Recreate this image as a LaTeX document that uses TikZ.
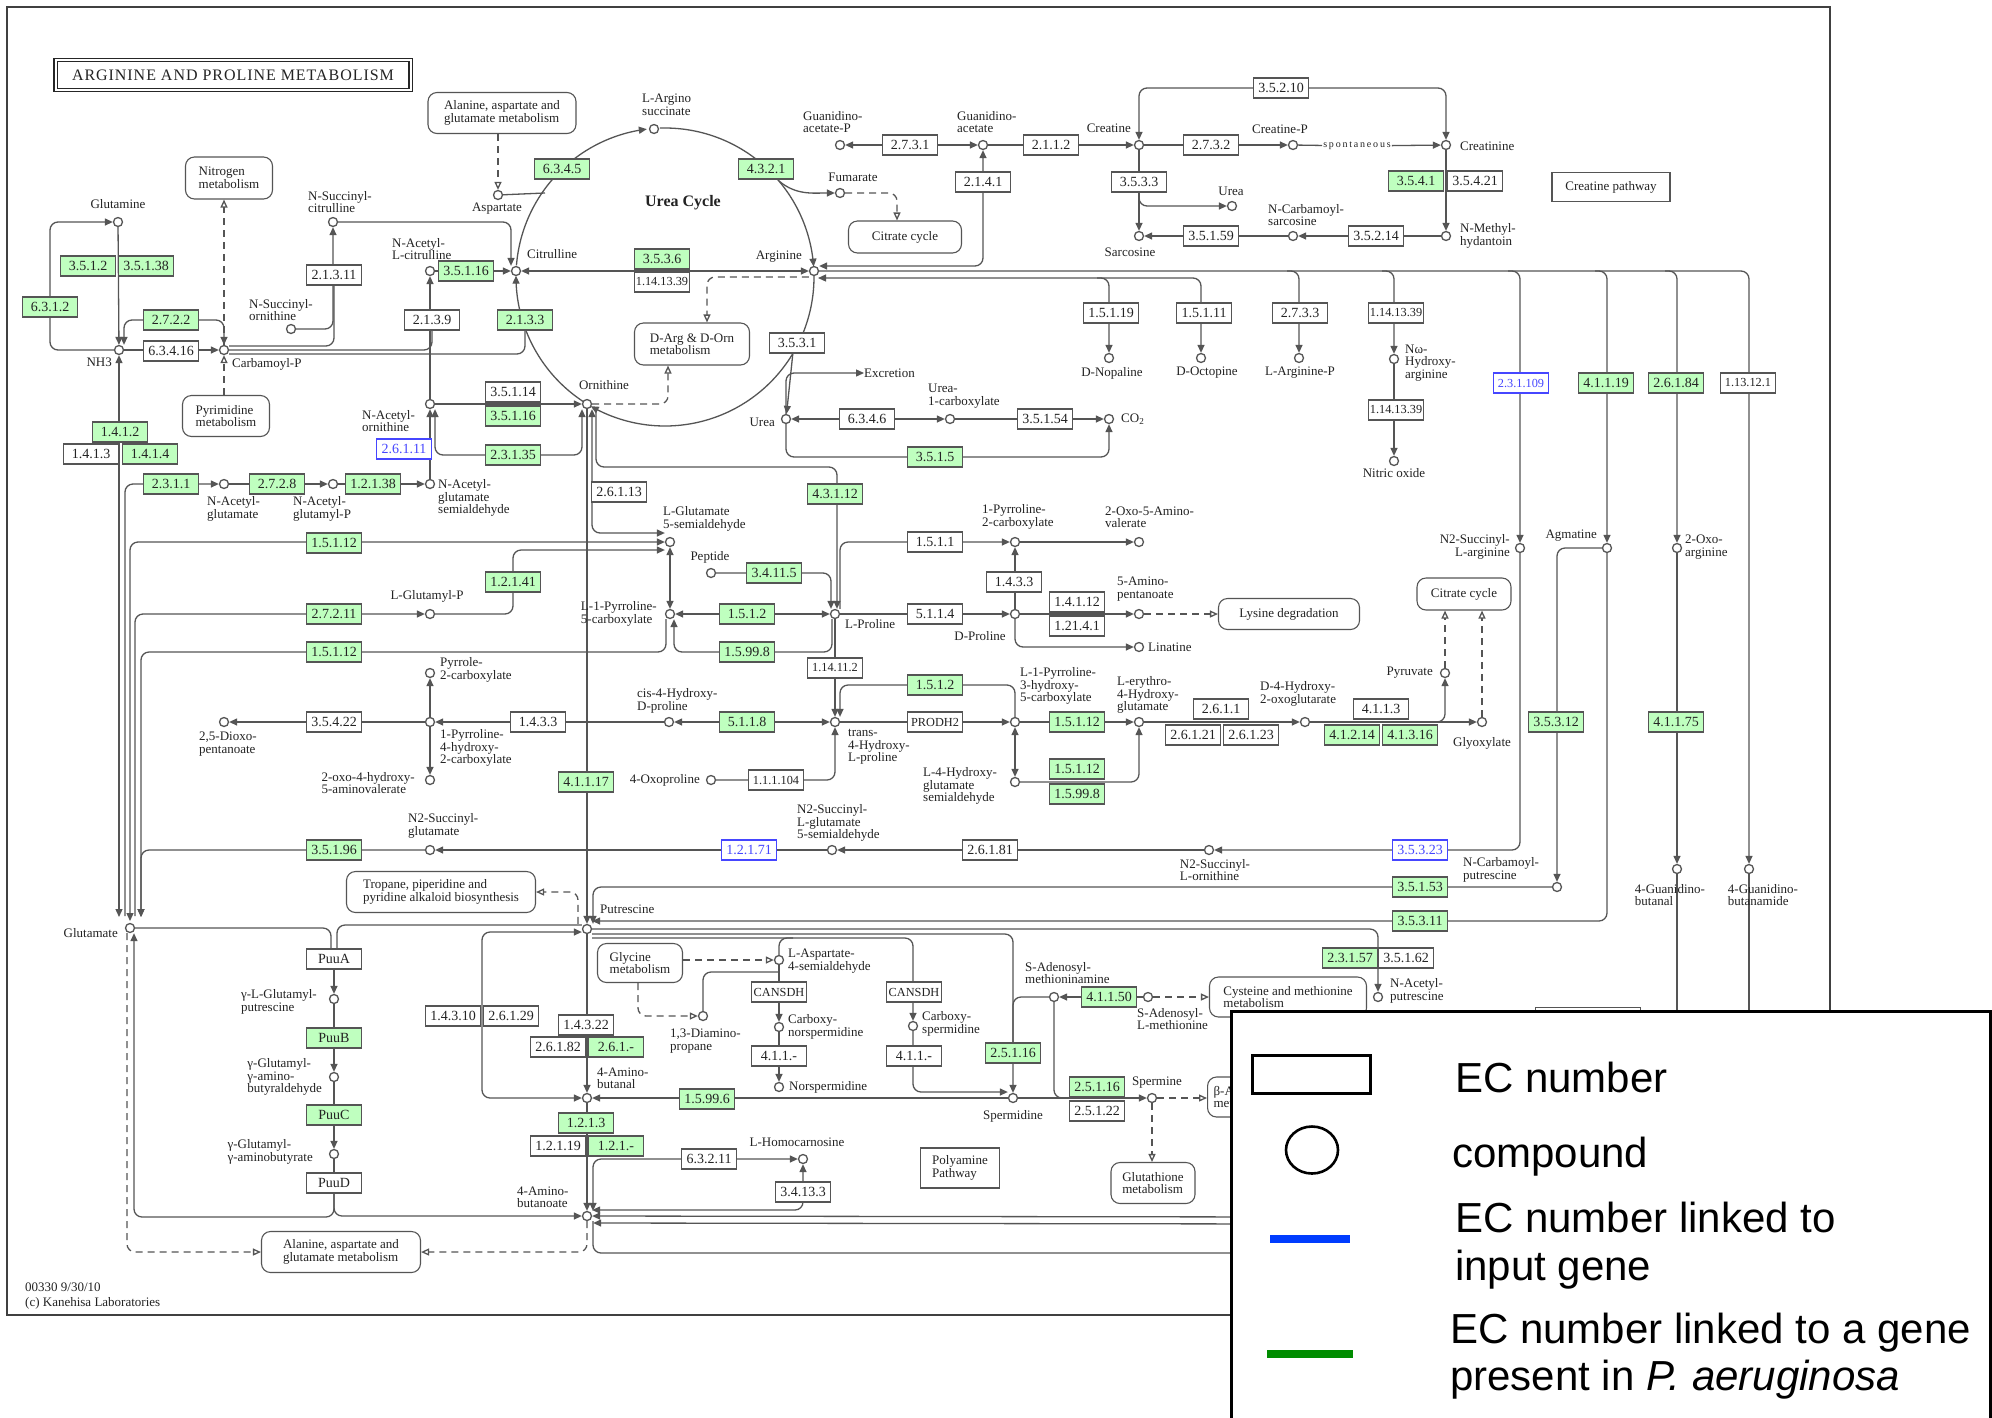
\documentclass[tikz,border=0pt]{standalone}
\usepackage{fontspec}
\setmainfont{Liberation Serif}
\newfontfamily\legfont{Liberation Sans}
\newfontfamily\spfont[LetterSpace=18]{Liberation Serif}
\newfontfamily\ttlfont[LetterSpace=6]{Liberation Serif}
\usetikzlibrary{arrows.meta,calc,shapes.geometric}
\pgfdeclarelayer{bg}
\pgfsetlayers{bg,main}
\definecolor{kgreen}{RGB}{191,255,191}
\definecolor{kblue}{RGB}{70,70,255}
\definecolor{lncol}{RGB}{85,85,85}
\definecolor{boxcol}{RGB}{85,85,85}
\definecolor{txtcol}{RGB}{35,35,35}
\definecolor{legblue}{RGB}{0,60,255}
\definecolor{leggreen}{RGB}{0,140,0}
\newcommand\ecf{\fontsize{14}{14}\selectfont}
\newcommand\ecsm{\fontsize{12.3}{12}\selectfont}
\newcommand\cpf{\fontsize{13}{12.5}\selectfont}
\tikzset{
  ln/.style={draw=lncol, line width=1.3pt, rounded corners=8pt},
  ar/.style={ln, -{Triangle[length=8pt,width=7pt]}},
  arb/.style={ln, {Triangle[length=8pt,width=7pt]}-{Triangle[length=8pt,width=7pt]}},
  dsh/.style={ln, dash pattern=on 7pt off 5pt, -{Triangle[open,length=8pt,width=7pt]}},
  cpd/.style={circle, draw=lncol, line width=1.3pt, fill=white, minimum size=9pt, inner sep=0pt},
  ecw/.style={rectangle, draw=boxcol, line width=1.1pt, fill=white, minimum width=55pt, minimum height=20pt, inner sep=0pt, font=\ecf, text=txtcol},
  ecg/.style={ecw, fill=kgreen},
  ecb/.style={ecw, draw=kblue, text=kblue},
  mapbox/.style={rectangle, rounded corners=9pt, draw=boxcol, line width=1.1pt, fill=white, align=left, font=\cpf, text=txtcol, inner sep=2pt},
  plainbox/.style={rectangle, draw=boxcol, line width=1.1pt, fill=white, align=left, font=\cpf, text=txtcol, inner sep=2pt},
  lbl/.style={font=\cpf, inner sep=0pt, text=txtcol, align=left},
  lt/.style={font=\legfont\fontsize{42}{48}\selectfont, inner sep=0pt, anchor=base west},
}
\newcommand\kcp[2]{\node[cpd] (c-#1) at (#2) {};}
\newcommand\klb[4][anchor=center]{\node[lbl,#1] (l-#2) at (#3) {#4};}
\newcommand\kew[3]{\node[ecw] (#1) at (#2) {#3};}
\newcommand\keg[3]{\node[ecg] (#1) at (#2) {#3};}
\newcommand\keb[3]{\node[ecb] (#1) at (#2) {#3};}
\newcommand\kmb[5]{\node[mapbox, minimum width=#3pt, minimum height=#4pt] (#1) at (#2) {#5};}
\begin{document}
\begin{tikzpicture}[x=1pt,y=-1pt]
\useasboundingbox (0,0) rectangle (1992,1417);
% ---------------- title and boxes
\node[draw=black!85, line width=1.2pt, double, double distance=2pt, minimum width=355pt, minimum height=30pt, inner sep=0pt, font=\ttlfont\fontsize{16}{16}\selectfont, text=txtcol] (title) at (233,75) {ARGININE AND PROLINE METABOLISM};
\node[font=\bfseries\fontsize{16}{16}\selectfont, text=txtcol] (t-ucyc) at (683,203) {Urea Cycle};
\node[font=\spfont\fontsize{10}{10}\selectfont, inner sep=1pt, text=txtcol] (t-spont) at (1357,146) {spontaneous};
\node[lbl, anchor=west, font=\fontsize{13}{15}\selectfont] (t-foot) at (25,1296) {00330 9/30/10\\(c) Kanehisa Laboratories};
\kmb{m-ala1}{502,113}{148}{41}{Alanine, aspartate and\\glutamate metabolism}
\kmb{m-nit}{229,178}{87}{42}{Nitrogen\\metabolism}
\kmb{m-pyr}{226,416}{87}{41}{Pyrimidine\\metabolism}
\kmb{m-cit1}{905,237}{113}{32}{Citrate cycle}
\kmb{m-darg}{692,344}{115}{42}{D-Arg \& D-Orn\\metabolism}
\kmb{m-lys}{1289,614}{141}{31}{Lysine degradation}
\kmb{m-cit2}{1464,594}{94}{32}{Citrate cycle}
\kmb{m-trop}{441,892}{189}{41}{Tropane, piperidine and\\pyridine alkaloid biosynthesis}
\kmb{m-gly}{640,963}{85}{39}{Glycine\\metabolism}
\kmb{m-cys}{1288,997}{157}{40}{Cysteine and methionine\\metabolism}
\node[mapbox, anchor=west, minimum height=40pt, inner xsep=6pt] (m-bala) at (1207,1097) {β-Alanine\\metabolism};
\kmb{m-glut}{1153,1183}{84}{41}{Glutathione\\metabolism}
\kmb{m-ala2}{341,1252}{159}{41}{Alanine, aspartate and\\glutamate metabolism}
\node[plainbox, minimum width=118pt, minimum height=29pt] (b-cpw) at (1611,187) {Creatine pathway};
\node[plainbox, minimum width=79pt, minimum height=40pt] (b-poly) at (960,1168) {Polyamine\\Pathway};
\node[plainbox, anchor=north west, minimum width=105pt, minimum height=30pt] (b-hidden) at (1535,1007) {};
% ---------------- compounds
\kcp{gln}{118,222}\kcp{nh3}{119,350}\kcp{carbp}{224,350}\kcp{nsc}{333,222}\kcp{nso}{291,329}
\kcp{nacit}{430,271}\kcp{naorn}{430,404}\kcp{cit}{516,271}\kcp{asp}{498,195}\kcp{args}{654,129}
\kcp{fum}{840,193}\kcp{arg}{814,271}\kcp{orn}{587,404}\kcp{urea}{786,419}\kcp{gaap}{840,145}
\kcp{gaa}{983,145}\kcp{crea}{1139,145}\kcp{creap}{1293,145}\kcp{creat}{1446,145}\kcp{nmh}{1446,236}
\kcp{ncs}{1293,236}\kcp{sar}{1139,236}\kcp{urea2}{1232,206}\kcp{dnop}{1109,358}\kcp{doct}{1201,358}
\kcp{largp}{1299,358}\kcp{nohar}{1394,359}\kcp{no}{1394,461}\kcp{u1c}{950,419}\kcp{co2}{1109,419}
\kcp{nag}{224,484}\kcp{nagp}{333,484}\kcp{nagsa}{430,484}\kcp{lgp}{430,614}\kcp{pyr2c}{430,673}
\kcp{p4h2c}{430,722}\kcp{dioxo}{224,722}\kcp{oxohy}{430,780}\kcp{n2sg}{430,850}\kcp{glu5sa}{670,542}
\kcp{p5c}{670,614}\kcp{pep}{711,573}\kcp{pro}{835,614}\kcp{cishp}{669,722}\kcp{thp}{835,722}
\kcp{oxop}{711,780}\kcp{n2sgsa}{832,850}\kcp{p2c}{1015,542}\kcp{oxoav}{1139,542}\kcp{dpro}{1015,614}
\kcp{ap}{1139,614}\kcp{lin}{1139,647}\kcp{p3h5c}{1015,722}\kcp{lehg}{1139,722}\kcp{l4hgsa}{1015,782}
\kcp{d4h2og}{1305,722}\kcp{pyrv}{1445,673}\kcp{glyox}{1482,722}\kcp{n2so}{1209,850}\kcp{n2sa}{1520,548}
\kcp{agm}{1607,548}\kcp{oxoarg}{1677,548}\kcp{ncp}{1557,887}\kcp{gbal}{1677,869}\kcp{gbam}{1749,869}
\kcp{glu}{130,928}\kcp{put}{587,929}\kcp{ggp}{334,999}\kcp{ggab}{334,1077}\kcp{ggaba}{334,1154}
\kcp{abal}{587,1098}\kcp{gaba}{587,1216}\kcp{lhc}{803,1159}\kcp{lasa}{779,960}\kcp{dap}{703,1016}
\kcp{cnsp}{779,1027}\kcp{nsp}{779,1087}\kcp{csp}{913,1026}\kcp{spd}{1013,1098}\kcp{sam2}{1054,997}
\kcp{sam}{1148,997}\kcp{spm}{1152,1098}\kcp{nap}{1378,997}
% ---------------- compound labels
\klb{gln}{118,204}{Glutamine}
\klb[anchor=east]{nh3}{112,362}{NH3}
\klb[anchor=west]{carbp}{232,364}{Carbamoyl-P}
\klb[anchor=west]{nsc}{308,202}{N-Succinyl-\\citrulline}
\klb[anchor=west]{nso}{249,310}{N-Succinyl-\\ornithine}
\klb[anchor=west]{nacit}{392,249}{N-Acetyl-\\L-citrulline}
\klb[anchor=west]{naorn}{362,421}{N-Acetyl-\\ornithine}
\klb[anchor=west]{cit}{527,254}{Citrulline}
\klb{asp}{497,209}{Aspartate}
\klb[anchor=west]{args}{642,105}{L-Argino\\succinate}
\klb{fum}{853,177}{Fumarate}
\klb[anchor=east]{arg}{802,257}{Arginine}
\klb{orn}{604,385}{Ornithine}
\klb[anchor=east]{urea}{775,422}{Urea}
\klb[anchor=west]{gaap}{803,122}{Guanidino-\\acetate-P}
\klb[anchor=west]{gaa}{957,122}{Guanidino-\\acetate}
\klb[anchor=east]{crea}{1131,128}{Creatine}
\klb{creap}{1280,129}{Creatine-P}
\klb[anchor=west]{creat}{1460,146}{Creatinine}
\klb[anchor=west]{nmh}{1460,236}{N-Methyl-\\hydantoin}
\klb[anchor=west]{ncs}{1268,215}{N-Carbamoyl-\\sarcosine}
\klb{sar}{1130,252}{Sarcosine}
\klb{urea2}{1231,191}{Urea}
\klb{dnop}{1112,373}{D-Nopaline}
\klb{doct}{1207,373}{D-Octopine}
\klb{largp}{1300,373}{L-Arginine-P}
\klb[anchor=west]{nohar}{1405,363}{Nω-\\Hydroxy-\\arginine}
\klb{no}{1394,473}{Nitric oxide}
\klb[anchor=west]{u1c}{928,396}{Urea-\\1-carboxylate}
\klb[anchor=west]{co2}{1121,419}{CO\textsubscript{2}}
\klb[anchor=west]{excr}{864,373}{Excretion}
\klb[anchor=west]{nag}{207,509}{N-Acetyl-\\glutamate}
\klb[anchor=west]{nagp}{293,509}{N-Acetyl-\\glutamyl-P}
\klb[anchor=west]{nagsa}{438,498}{N-Acetyl-\\glutamate\\semialdehyde}
\klb{lgp}{427,596}{L-Glutamyl-P}
\klb[anchor=west]{pyr2c}{440,670}{Pyrrole-\\2-carboxylate}
\klb[anchor=west]{p4h2c}{440,748}{1-Pyrroline-\\4-hydroxy-\\2-carboxylate}
\klb[anchor=west]{dioxo}{199,744}{2,5-Dioxo-\\pentanoate}
\klb[anchor=east]{oxohy}{415,783}{2-oxo-4-hydroxy-\\5-aminovalerate}
\klb[anchor=west]{n2sg}{408,826}{N2-Succinyl-\\glutamate}
\klb[anchor=west]{glu5sa}{663,519}{L-Glutamate\\5-semialdehyde}
\klb[anchor=east]{p5c}{657,614}{L-1-Pyrroline-\\5-carboxylate}
\klb{pep}{710,557}{Peptide}
\klb[anchor=west]{pro}{845,624}{L-Proline}
\klb[anchor=west]{cishp}{637,701}{cis-4-Hydroxy-\\D-proline}
\klb[anchor=west]{thp}{848,747}{trans-\\4-Hydroxy-\\L-proline}
\klb[anchor=east]{oxop}{700,780}{4-Oxoproline}
\klb[anchor=west]{n2sgsa}{797,823}{N2-Succinyl-\\L-glutamate\\5-semialdehyde}
\klb[anchor=west]{p2c}{982,517}{1-Pyrroline-\\2-carboxylate}
\klb[anchor=west]{oxoav}{1105,517}{2-Oxo-5-Amino-\\valerate}
\klb{dpro}{980,636}{D-Proline}
\klb[anchor=west]{ap}{1117,589}{5-Amino-\\pentanoate}
\klb[anchor=west]{lin}{1148,647}{Linatine}
\klb[anchor=west]{p3h5c}{1020,686}{L-1-Pyrroline-\\3-hydroxy-\\5-carboxylate}
\klb[anchor=west]{lehg}{1117,695}{L-erythro-\\4-Hydroxy-\\glutamate}
\klb[anchor=west]{l4hgsa}{923,786}{L-4-Hydroxy-\\glutamate\\semialdehyde}
\klb[anchor=west]{d4h2og}{1260,694}{D-4-Hydroxy-\\2-oxoglutarate}
\klb[anchor=east]{pyrv}{1433,673}{Pyruvate}
\klb{glyox}{1482,743}{Glyoxylate}
\klb{n2so}{1215,870}{N2-Succinyl-\\L-ornithine}
\klb[anchor=east,align=right]{n2sa}{1510,547}{N2-Succinyl-\\L-arginine}
\klb[anchor=east]{agm}{1597,536}{Agmatine}
\klb[anchor=west]{oxoarg}{1685,547}{2-Oxo-\\arginine}
\klb[anchor=west]{ncp}{1463,870}{N-Carbamoyl-\\putrescine}
\klb{gbal}{1670,895}{4-Guanidino-\\butanal}
\klb{gbam}{1763,895}{4-Guanidino-\\butanamide}
\klb[anchor=east]{glu}{118,933}{Glutamate}
\klb[anchor=west]{put}{600,909}{Putrescine}
\klb[anchor=east]{ggp}{317,1002}{γ-L-Glutamyl-\\putrescine}
\klb[anchor=east]{ggab}{322,1077}{γ-Glutamyl-\\γ-amino-\\butyraldehyde}
\klb[anchor=east]{ggaba}{313,1152}{γ-Glutamyl-\\γ-aminobutyrate}
\klb[anchor=west]{abal}{597,1078}{4-Amino-\\butanal}
\klb[anchor=west]{gaba}{517,1197}{4-Amino-\\butanoate}
\klb{lhc}{797,1142}{L-Homocarnosine}
\klb[anchor=west]{lasa}{788,961}{L-Aspartate-\\4-semialdehyde}
\klb[anchor=west]{dap}{670,1041}{1,3-Diamino-\\propane}
\klb[anchor=west]{cnsp}{788,1027}{Carboxy-\\norspermidine}
\klb[anchor=west]{nsp}{789,1087}{Norspermidine}
\klb[anchor=west]{csp}{922,1024}{Carboxy-\\spermidine}
\klb{spd}{1013,1116}{Spermidine}
\klb[anchor=west]{sam2}{1025,973}{S-Adenosyl-\\methioninamine}
\klb[anchor=west]{sam}{1137,1019}{S-Adenosyl-\\L-methionine}
\klb{spm}{1157,1083}{Spermine}
\klb[anchor=west]{nap}{1390,991}{N-Acetyl-\\putrescine}
% ---------------- EC boxes
\keg{e3512}{88,266}{3.5.1.2}\keg{e35138}{146,266}{3.5.1.38}\keg{e6312}{50,307}{6.3.1.2}
\keg{e2722}{171,320}{2.7.2.2}\kew{e63416}{171,351}{6.3.4.16}\keg{e1412}{120,432}{1.4.1.2}
\kew{e1413}{91,454}{1.4.1.3}\keg{e1414}{150,454}{1.4.1.4}\kew{e21311}{334,275}{2.1.3.11}
\kew{e2139}{432,320}{2.1.3.9}\keg{e35116a}{466,271}{3.5.1.16}\keb{e26111}{404,449}{2.6.1.11}
\keg{e6345}{562,169}{6.3.4.5}\keg{e4321}{766,169}{4.3.2.1}\keg{e3536}{662,259}{3.5.3.6}
\kew{e1141339a}{662,282}{\ecsm 1.14.13.39}\keg{e2133}{525,320}{2.1.3.3}\kew{e3531}{797,343}{3.5.3.1}
\kew{e35114}{513,392}{3.5.1.14}\keg{e35116b}{513,416}{3.5.1.16}\keg{e23135}{513,455}{2.3.1.35}
\kew{e6346}{867,419}{6.3.4.6}\keg{e3515}{935,457}{3.5.1.5}\keg{e3541}{1416,181}{3.5.4.1}
\kew{e35421}{1475,181}{3.5.4.21}\kew{e2731}{910,145}{2.7.3.1}\kew{e2112}{1051,145}{2.1.1.2}
\kew{e2141}{983,182}{2.1.4.1}\kew{e35210}{1281,88}{3.5.2.10}\kew{e2732}{1211,145}{2.7.3.2}
\kew{e3533}{1139,182}{3.5.3.3}\kew{e35159}{1211,236}{3.5.1.59}\kew{e35214}{1376,236}{3.5.2.14}
\kew{e15119}{1111,313}{1.5.1.19}\kew{e15111}{1204,313}{1.5.1.11}\kew{e2733}{1300,313}{2.7.3.3}
\kew{e1141339b}{1396,313}{\ecsm 1.14.13.39}\kew{e1141339c}{1396,410}{\ecsm 1.14.13.39}
\keb{e231109}{1521,383}{\ecsm 2.3.1.109}\keg{e41119}{1606,383}{4.1.1.19}\keg{e26184}{1676,383}{2.6.1.84}
\kew{e113121}{1748,383}{\ecsm 1.13.12.1}\kew{e35154}{1045,419}{3.5.1.54}
\keg{e2311}{171,484}{2.3.1.1}\keg{e2728}{277,484}{2.7.2.8}\keg{e12138}{373,484}{1.2.1.38}
\keg{e15112a}{334,543}{1.5.1.12}\keg{e27211}{334,614}{2.7.2.11}\keg{e15112b}{334,652}{1.5.1.12}
\kew{e35422}{334,722}{3.5.4.22}\keg{e35196}{334,850}{3.5.1.96}\kew{e26113}{619,492}{2.6.1.13}
\keg{e43112}{835,494}{4.3.1.12}\keg{e12141}{513,582}{1.2.1.41}\keg{e34115}{774,573}{3.4.11.5}
\keg{e1512a}{747,614}{1.5.1.2}\keg{e15998a}{747,652}{1.5.99.8}\kew{e114112}{835,668}{\ecsm 1.14.11.2}
\keg{e5118}{747,722}{5.1.1.8}\kew{e1433a}{538,722}{1.4.3.3}\keg{e41117}{586,782}{4.1.1.17}
\kew{e111104}{776,780}{\ecsm 1.1.1.104}\keb{e12171}{749,850}{1.2.1.71}\kew{e1511}{935,542}{1.5.1.1}
\kew{e1433b}{1014,582}{1.4.3.3}\kew{e5114}{935,614}{5.1.1.4}\kew{e14112}{1077,602}{1.4.1.12}
\kew{e12141b}{1077,626}{1.21.4.1}\keg{e1512b}{935,685}{1.5.1.2}\kew{eprodh}{935,722}{\ecsm PRODH2}
\keg{e15112c}{1077,722}{1.5.1.12}\keg{e15112d}{1077,769}{1.5.1.12}\keg{e15998b}{1077,794}{1.5.99.8}
\kew{e2611}{1221,709}{2.6.1.1}\kew{e26121}{1193,735}{2.6.1.21}\kew{e26123}{1251,735}{2.6.1.23}
\kew{e4113}{1381,709}{4.1.1.3}\keg{e41214}{1352,735}{4.1.2.14}\keg{e41316}{1410,735}{4.1.3.16}
\kew{e26181}{990,850}{2.6.1.81}\keb{e35323}{1420,850}{3.5.3.23}\keg{e35312}{1556,722}{3.5.3.12}
\keg{e41175}{1676,722}{4.1.1.75}\keg{e35153}{1420,887}{3.5.1.53}\keg{e35311}{1420,921}{3.5.3.11}
\kew{epuua}{334,959}{PuuA}\keg{epuub}{334,1038}{PuuB}\keg{epuuc}{334,1115}{PuuC}\kew{epuud}{334,1183}{PuuD}
\kew{e14310}{453,1016}{1.4.3.10}\kew{e26129}{511,1016}{2.6.1.29}\kew{e14322}{586,1025}{1.4.3.22}
\kew{e26182}{558,1047}{2.6.1.82}\keg{e261x}{616,1047}{2.6.1.-}\keg{e15996}{707,1099}{1.5.99.6}
\keg{e1213}{586,1123}{1.2.1.3}\kew{e12119}{558,1146}{1.2.1.19}\keg{e121x}{616,1146}{1.2.1.-}
\kew{e63211}{709,1159}{6.3.2.11}\kew{e34133}{803,1192}{3.4.13.3}\kew{ecans1}{779,992}{\ecsm CANSDH}
\kew{e411x1}{779,1056}{4.1.1.-}\kew{ecans2}{914,992}{\ecsm CANSDH}\kew{e411x2}{914,1056}{4.1.1.-}
\keg{e25116a}{1013,1053}{2.5.1.16}\keg{e41150}{1109,997}{4.1.1.50}\keg{e25116b}{1097,1087}{2.5.1.16}
\kew{e25122}{1097,1111}{2.5.1.22}\keg{e23157}{1350,958}{2.3.1.57}\kew{e35162}{1406,958}{3.5.1.62}
% ---------------- helper coordinates
\coordinate (gbA) at (119,917);\coordinate (gbB) at (125,916);\coordinate (gbC) at (130,921);
\coordinate (gbD) at (135,916);\coordinate (gbE) at (141,917);
\coordinate (asp-j) at (545,193);\coordinate (fum-j) at (779,181);\coordinate (urea-j) at (793,352);
\coordinate (a2) at (818,278);\coordinate (k43) at (837,467);
\coordinate (gbal-end) at (1677,1300);\coordinate (gbam-end) at (1749,1300);
\coordinate (gaba-end) at (1300,1253);\coordinate (gr1) at (1300,1217);\coordinate (gr2) at (1300,1224);
\coordinate (pd-turn) at (134,1217);
% ---------------- connectors
\begin{pgfonlayer}{bg}
\fill[white] (0,0) rectangle (1992,1417);
\draw[draw=black!75, line width=2pt] (7,7) rectangle (1830,1315);
% glutamine / NH3 / carbamoyl-P
\draw[ar] (c-nh3) -| (e6312.center) |- (c-gln);
\draw[ar] (c-gln) -- (c-nh3);
\draw[arb] ($(c-nh3.north)+(5,0)$) |- (e2722.center) -| (c-carbp);
\draw[ar] (c-nh3) -- (c-carbp);
\draw[dsh] (c-carbp) -- (c-carbp |- m-nit.south);
\draw[dsh] (c-carbp |- m-pyr.north) -- (c-carbp);
\draw[ln] ($(c-carbp.east)+(0,-4)$) -| (e21311.south);
\draw[ln] (c-carbp) -| (e2139.south);
\draw[ln] ($(c-carbp.east)+(0,4)$) -| (e2133.south);
% glutamate bus
\draw[arb] (gbA) -- (c-nh3);
\draw[ar] (gbB) |- (c-nag);
\draw[arb] (c-glu5sa) -| (gbC);
\draw[ar] (gbD) |- (c-lgp);
\draw[ar] ($(c-p5c.south)+(-4,0)$) |- (e15112b.center) -| (gbE);
\draw[ar] (c-n2sg) -| (gbE);
% N-acetyl / citrulline
\draw[ar] (c-nag) -- (c-nagp);
\draw[ar] (c-nagp) -- (c-nagsa);
\draw[ar] (c-nagsa) -- (c-naorn);
\draw[arb] ($(c-naorn.south)+(5,0)$) |- (e23135.center) -| ($(c-orn.south)+(-5,0)$);
\draw[ar] (c-naorn) -- (c-orn);
\draw[ar] (c-naorn) -- (c-nacit);
\draw[ar] (c-nacit) -- (c-cit);
\draw[ar] (c-nso) -| (c-nsc);
\draw[ar] (c-nsc) -| ($(c-cit.north)+(-5,0)$);
% urea cycle
\draw[ar, sharp corners] plot[domain=184.5:263, samples=60] ({665+149*cos(\x)},{277+149*sin(\x)});
\draw[ar, sharp corners] plot[domain=268:356, samples=60] ({665+149*cos(\x)},{277+149*sin(\x)});
\draw[ar, sharp corners] plot[domain=-0.5:119.9, samples=80] ({665+149*cos(\x)},{277+149*sin(\x)});
\draw[ar, sharp corners] plot[domain=123.4:180.5, samples=40] ({665+149*cos(\x)},{277+149*sin(\x)});
\draw[ln] (c-asp) -- (asp-j);
\draw[ar] (fum-j) to[out=-40,in=180] (c-fum);
\draw[ar] (urea-j) -- (c-urea);
\draw[arb] (c-arg) -- (c-cit);
\draw[dsh] ($(c-arg.west)+(0,6)$) -| ($(m-darg.north)+(15,0)$);
\draw[dsh] (c-orn) -| ($(m-darg.south)+(-24,0)$);
\draw[dsh] (c-asp |- m-ala1.south) -- (c-asp);
\draw[dsh] (c-fum) -| ($(m-cit1.north)+(-8,0)$);
\draw[ar] (c-urea) |- (l-excr);
\draw[arb] (c-u1c) -- (c-urea);
\draw[ar] (c-u1c) -- (c-co2);
\draw[ar] (c-urea) |- (e3515.center) -| (c-co2);
% creatine
\draw[arb] ($(c-arg.east)+(0,-5)$) -| (c-gaa);
\draw[arb] (c-gaa) -- (c-gaap);
\draw[ar] (c-gaa) -- (c-crea);
\draw[arb] (c-crea) |- (e35210.center) -| (c-creat);
\draw[ar] (c-crea) -- (c-creap);
\draw[ln] (c-creap) -- (t-spont);
\draw[ar] (t-spont) -- (c-creat);
\draw[ar] (c-creat) -- (c-nmh);
\draw[ar] (c-nmh) -- (c-ncs);
\draw[ar] (c-ncs) -- (c-sar);
\draw[ar] (c-crea) -- (c-sar);
\draw[ar] ($(c-crea)!0.58!(c-sar)$) |- (c-urea2);
% arginine bus
\draw[ar] (c-arg) -| (c-gbam);
\draw[ar] ($(c-largp |- c-arg)+(-12,0)$) -| (c-largp);
\draw[ar] ($(c-nohar |- c-arg)+(-12,0)$) -| (c-nohar);
\draw[ar] ($(c-n2sa |- c-arg)+(-12,0)$) -| (c-n2sa);
\draw[ar] ($(c-agm |- c-arg)+(-12,0)$) -| (c-agm);
\draw[ar] ($(c-oxoarg |- c-arg)+(-12,0)$) -| (c-oxoarg);
\draw[arb] (a2) -| (c-doct);
\draw[ar] ($(c-dnop |- a2)+(-12,0)$) -| (c-dnop);
\draw[ar] (c-nohar) -- (c-no);
\draw[ar] (c-oxoarg) -- (c-gbal);
\draw[ln] (c-gbal) -- (gbal-end);
\draw[ln] (c-gbam) -- (gbam-end);
\draw[ar] (c-n2sa) |- (c-n2so);
\draw[ar] (c-n2so) -- (c-n2sgsa);
\draw[ar] (c-n2sgsa) -- (c-n2sg);
\draw[ar] (c-agm) -| (c-ncp);
\draw[ar] (c-agm) |- ($(c-put.east)+(0,-8)$);
\draw[ar] (c-ncp) -| ($(c-put.north)+(6,0)$);
% ornithine / proline
\draw[ar] (c-orn) -- (c-put);
\draw[arb] ($(c-orn.south)+(5,0)$) |- ($(c-glu5sa.west)+(0,-9)$);
\draw[ar] ($(c-orn.south)+(9,0)$) |- (k43) -- ($(c-pro.north)+(2,0)$);
\draw[ar] (c-lgp) -| (e12141.center) |- ($(c-glu5sa.west)+(0,8)$);
\draw[arb] (c-glu5sa) -- (c-p5c);
\draw[arb] (c-p5c) -- (c-pro);
\draw[ar] ($(c-pro.south)+(-3,0)$) |- (e15998a.center) -| ($(c-p5c.south)+(4,0)$);
\draw[ar] (c-pep) -| ($(c-pro.north)+(-4,0)$);
\draw[ar] ($(c-pro.north)+(5,0)$) |- (c-p2c);
\draw[ar] (c-pro) -- (c-dpro);
\draw[ar] (c-dpro) -- (c-p2c);
\draw[ar] (c-dpro) -- (c-ap);
\draw[ar] (c-dpro) |- (c-lin);
\draw[ar] (c-p2c) -- (c-oxoav);
\draw[dsh] (c-ap) -- (m-lys);
\draw[ar] (c-pro) -- (c-thp);
\draw[arb] (c-cishp) -- (c-thp);
\draw[ar] (c-cishp) -- (c-p4h2c);
\draw[ar] (c-p4h2c) -- (c-dioxo);
\draw[ar] (c-p4h2c) -- (c-pyr2c);
\draw[ar] (c-p4h2c) -- (c-oxohy);
\draw[ar] (c-oxop) -| (c-thp);
\draw[ar] (c-p3h5c) |- (e1512b.center) -| ($(c-thp.north)+(5,0)$);
\draw[ar] (c-thp) -- (c-p3h5c);
\draw[ar] (c-p3h5c) -- (c-lehg);
\draw[arb] (c-p3h5c) -- (c-l4hgsa);
\draw[ar] (c-l4hgsa) -| (c-lehg);
\draw[ar] (c-lehg) -- (c-d4h2og);
\draw[ar] (c-d4h2og) -- (c-glyox);
\draw[ar] ($(c-pyrv |- c-glyox)+(-12,0)$) -| (c-pyrv);
\draw[dsh] (c-pyrv) -- (c-pyrv |- m-cit2.south);
\draw[dsh] (c-glyox) -- (c-glyox |- m-cit2.south);
% putrescine region
\draw[dsh] ($(c-put.north)+(-9,0)$) |- (m-trop.east);
\draw[ln] (c-glu) -| ($(epuua.north)+(-3,0)$);
\draw[ln] ($(c-put.west)+(0,-4)$) -| ($(epuua.north)+(3,0)$);
\draw[ar] (epuua) -- (c-ggp);
\draw[ar] (c-ggp) -- (c-ggab);
\draw[ar] (c-ggab) -- (c-ggaba);
\draw[ln] (c-ggaba) -- (epuud);
\draw[ar] (epuud.south) |- (pd-turn) -- ($(c-glu.south)+(4,0)$);
\draw[ar] (epuud.south) |- (c-gaba);
\draw[dsh] ($(c-glu.south)+(-3,0)$) |- (m-ala2.west);
\draw[dsh] (c-gaba) |- (m-ala2.east);
\draw[ln] ($(c-gaba.south)+(6,0)$) |- (gaba-end);
\draw[arb] ($(c-put.west)+(0,3)$) -| ($(e14310)!0.5!(e26129)$) |- (c-abal);
\draw[ar] (c-put) -- (c-abal);
\draw[ar] (c-abal) -- (c-gaba);
\draw[ar] (c-spd) -- (c-abal);
\draw[arb] ($(c-gaba.north)+(6,0)$) |- (c-lhc);
\draw[arb] (c-lhc) |- ($(c-gaba.east)+(0,-6)$);
\draw[ar] (gr1) -- (c-gaba);
\draw[ar] (gr2) -- ($(c-gaba.east)+(1,7)$);
\draw[ar] ($(c-put.east)+(0,9)$) -| (c-csp);
\draw[ln] (c-lasa) |- ($(c-lasa |- c-put)+(14,9)$);
\draw[dsh] (m-gly.east |- c-lasa) -- (c-lasa);
\draw[dsh] ($(m-gly.south)+(-2,0)$) |- (c-dap);
\draw[ln] (c-dap) |- ($(c-lasa)+(0,12)$);
\draw[ar] (c-lasa) -- (c-cnsp);
\draw[ar] (c-cnsp) -- (c-nsp);
\draw[ar] (c-csp) |- ($(c-spd.west)+(0,-6)$);
\draw[ar] ($(c-put.east)+(0,5)$) -| (c-spd);
\draw[ln] (c-sam2) -| (e25116a.north);
\draw[ar] (c-sam) -- (c-sam2);
\draw[ln] (c-sam2) |- ($(c-spd)!0.45!(c-spm)$);
\draw[ar] (c-spd) -- (c-spm);
\draw[dsh] (c-spm) -- (c-spm -| m-bala.west);
\draw[dsh] (c-spm) -- (c-spm |- m-glut.north);
\draw[dsh] (c-sam) -- (c-sam -| m-cys.west);
\draw[ar] (c-put) -| (c-nap);
\end{pgfonlayer}
% ---------------- legend
\draw[fill=white, line width=3pt] (1231,1011) rectangle (1990,1430);
\node[draw=black, line width=3pt, minimum width=118pt, minimum height=38pt, inner sep=0pt] (leg-rect) at (1311,1074) {};
\node[lt] (leg-t1) at (1455,1092) {EC number};
\node[draw=black, ellipse, line width=2.6pt, minimum width=52pt, minimum height=47pt, inner sep=0pt] (leg-circ) at (1312,1150) {};
\node[lt] (leg-t2) at (1452,1167) {compound};
\coordinate (lb1) at (1270,1239);\coordinate (lb2) at (1350,1239);
\draw[legblue, line width=8pt] (lb1) -- (lb2);
\node[lt] (leg-t3a) at (1455,1232) {EC number linked to};
\node[lt] (leg-t3b) at (1455,1280) {input gene};
\coordinate (lg1) at (1267,1354);\coordinate (lg2) at (1353,1354);
\draw[leggreen, line width=8pt] (lg1) -- (lg2);
\node[lt] (leg-t4a) at (1450,1343) {EC number linked to a gene};
\node[lt] (leg-t4b) at (1450,1390) {present in \textit{P. aeruginosa}};
\end{tikzpicture}
\end{document}
